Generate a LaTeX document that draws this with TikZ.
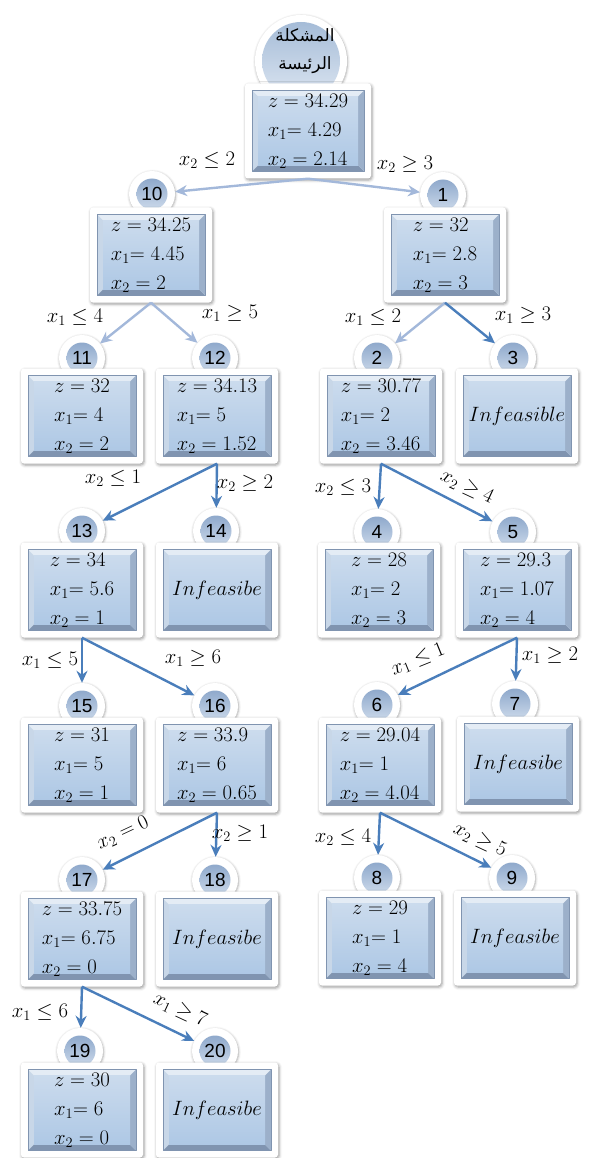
\documentclass[tikz,border=0pt]{standalone}
\usepackage{fontspec}
\setsansfont{Liberation Sans}
\newfontfamily\arabicfont[Script=Arabic]{DejaVu Sans}
\TeXXeTstate=1
\usetikzlibrary{arrows.meta,shadows.blur}

\definecolor{lightarr}{RGB}{163,184,218}
\definecolor{darkarr}{RGB}{74,126,187}
\definecolor{facetop}{RGB}{203,219,237}
\definecolor{facebot}{RGB}{174,200,229}
\definecolor{bevtop}{RGB}{228,236,245}
\definecolor{bevleft}{RGB}{200,215,232}
\definecolor{bevright}{RGB}{156,176,202}
\definecolor{bevbot}{RGB}{128,148,176}
\definecolor{tabtop}{RGB}{128,157,196}
\definecolor{tabbot}{RGB}{218,229,242}
\definecolor{roottop}{RGB}{160,184,213}
\definecolor{rootbot}{RGB}{226,234,244}

\tikzset{
  bevel/.style={rectangle,rounded corners=3pt,fill=white,inner sep=0pt,
    minimum width=122pt,minimum height=95pt,align=left,
    font=\fontsize{22.5}{29}\selectfont,
    blur shadow={shadow xshift=1pt,shadow yshift=-1.5pt,shadow blur radius=3pt,shadow opacity=40},
    path picture={
      \coordinate (pA) at ([shift={(7pt,-7pt)}]path picture bounding box.north west);
      \coordinate (pB) at ([shift={(-7pt,7pt)}]path picture bounding box.south east);
      \coordinate (qA) at ([shift={(13pt,-13pt)}]path picture bounding box.north west);
      \coordinate (qB) at ([shift={(-13pt,13pt)}]path picture bounding box.south east);
      \fill[sharp corners,bevtop] (pA) -- (pA -| pB) -- (qA -| qB) -- (qA) -- cycle;
      \fill[sharp corners,bevleft] (pA) -- (qA) -- (qA |- qB) -- (pA |- pB) -- cycle;
      \fill[sharp corners,bevbot] (pA |- pB) -- (qA |- qB) -- (qB) -- (pB) -- cycle;
      \fill[sharp corners,bevright] (pA -| pB) -- (pB) -- (qB) -- (qA -| qB) -- cycle;
      \shade[sharp corners,top color=facetop,bottom color=facebot] (qA) rectangle (qB);
      \draw[sharp corners,bevbot,line width=0.6pt] (pA) rectangle (pB);
    }},
  tab/.style={circle,fill=white,inner sep=0pt,minimum size=46pt,
    font=\fontsize{19}{19}\selectfont\sffamily,
    blur shadow={shadow xshift=0.5pt,shadow yshift=-1pt,shadow blur radius=2.5pt,shadow opacity=35},
    path picture={\shade[top color=tabtop,bottom color=tabbot] (path picture bounding box.center) circle (15.5pt);}},
  roottab/.style={tab,minimum size=92pt,
    path picture={\shade[top color=roottop,bottom color=rootbot] (path picture bounding box.center) circle (39pt);}},
  lightedge/.style={->,draw=lightarr,line width=2.4pt},
  darkedge/.style={->,draw=darkarr,line width=2.4pt},
  cond/.style={font=\fontsize{20}{20}\selectfont,inner sep=0pt}
}

\begin{document}
\begin{tikzpicture}[x=1pt,y=-1pt,>={Stealth[length=12pt,width=11pt]},line join=round]
  \useasboundingbox (0,0) rectangle (589,1158);
  % number tabs
  \node[roottab] (rtab) at (301,61) {};
  \node[font=\arabicfont\fontsize{17}{28}\selectfont,align=center] (rlbl) at (305,51) {\beginR المشكلة\endR\\\beginR الرئيسة\endR};
  \node[tab] (c10) at (152,194) {10};
  \node[tab] (c1) at (443,195) {1};
  \node[tab] (c11) at (82,358) {11};
  \node[tab] (c12) at (215,358) {12};
  \node[tab] (c2) at (377,358) {2};
  \node[tab] (c3) at (513,358) {3};
  \node[tab] (c13) at (82,531) {13};
  \node[tab] (c14) at (216,531) {14};
  \node[tab] (c4) at (377,532) {4};
  \node[tab] (c5) at (513,532) {5};
  \node[tab] (c15) at (82,706) {15};
  \node[tab] (c16) at (215,706) {16};
  \node[tab] (c6) at (377,705) {6};
  \node[tab] (c7) at (515,704) {7};
  \node[tab] (c17) at (82,880) {17};
  \node[tab] (c18) at (215,880) {18};
  \node[tab] (c8) at (377,878) {8};
  \node[tab] (c9) at (512,878) {9};
  \node[tab] (c19) at (80,1051) {19};
  \node[tab] (c20) at (215,1051) {20};
  % boxes
  \node[bevel,minimum width=126pt] (root) at (308,131) {$z = 34.29$\\$x_1{=}\;4.29$\\$x_2 = 2.14$};
  \node[bevel] (n10) at (151,255) {$z = 34.25$\\$x_1{=}\;4.45$\\$x_2 = 2$};
  \node[bevel] (n1) at (445,255) {$z = 32$\\$x_1{=}\;2.8$\\$x_2 = 3$};
  \node[bevel] (n11) at (82,416) {$z = 32$\\$x_1{=}\;4$\\$x_2 = 2$};
  \node[bevel] (n12) at (217,416) {$z = 34.13$\\$x_1{=}\;5$\\$x_2 = 1.52$};
  \node[bevel] (n2) at (381,416) {$z = 30.77$\\$x_1{=}\;2$\\$x_2 = 3.46$};
  \node[bevel] (n3) at (517,416) {$Infeasible$};
  \node[bevel] (n13) at (82,590) {$z = 34$\\$x_1{=}\;5.6$\\$x_2 = 1$};
  \node[bevel] (n14) at (217,590) {$Infeasibe$};
  \node[bevel] (n4) at (379,590) {$z = 28$\\$x_1{=}\;2$\\$x_2 = 3$};
  \node[bevel] (n5) at (517,590) {$z = 29.3$\\$x_1{=}\;1.07$\\$x_2 = 4$};
  \node[bevel] (n15) at (82,765) {$z = 31$\\$x_1{=}\;5$\\$x_2 = 1$};
  \node[bevel] (n16) at (217,765) {$z = 33.9$\\$x_1{=}\;6$\\$x_2 = 0.65$};
  \node[bevel] (n6) at (380,765) {$z = 29.04$\\$x_1{=}\;1$\\$x_2 = 4.04$};
  \node[bevel] (n7) at (518,764) {$Infeasibe$};
  \node[bevel] (n17) at (82,939) {$z = 33.75$\\$x_1{=}\;6.75$\\$x_2 = 0$};
  \node[bevel] (n18) at (217,939) {$Infeasibe$};
  \node[bevel] (n8) at (380,938) {$z = 29$\\$x_1{=}\;1$\\$x_2 = 4$};
  \node[bevel] (n9) at (515,938) {$Infeasibe$};
  \node[bevel] (n19) at (82,1110) {$z = 30$\\$x_1{=}\;6$\\$x_2 = 0$};
  \node[bevel] (n20) at (217,1110) {$Infeasibe$};
  % branches
  \draw[lightedge] (root.south) -- (c10);
  \draw[lightedge] (root.south) -- (c1);
  \draw[lightedge] (n10.south) -- (c11);
  \draw[lightedge] (n10.south) -- (c12);
  \draw[lightedge] (n1.south) -- (c2);
  \draw[darkedge] (n1.south) -- (c3);
  \draw[darkedge] (n12.south) -- (c13);
  \draw[darkedge] (n12.south) -- (c14);
  \draw[darkedge] (n2.south) -- (c4);
  \draw[darkedge] (n2.south) -- (c5);
  \draw[darkedge] (n13.south) -- (c15);
  \draw[darkedge] (n13.south) -- (c16);
  \draw[darkedge] (n5.south) -- (c6);
  \draw[darkedge] (n5.south) -- (c7);
  \draw[darkedge] (n16.south) -- (c17);
  \draw[darkedge] (n16.south) -- (c18);
  \draw[darkedge] (n6.south) -- (c8);
  \draw[darkedge] (n6.south) -- (c9);
  \draw[darkedge] (n17.south) -- (c19);
  \draw[darkedge] (n17.south) -- (c20);
  % branch conditions
  \node[cond] (l10) at (207,160) {$x_2\leq 2$};
  \node[cond] (l1) at (405,164) {$x_2\geq 3$};
  \node[cond] (l11) at (75,317) {$x_1\leq 4$};
  \node[cond] (l12) at (230,313) {$x_1\geq 5$};
  \node[cond] (l2) at (373,317) {$x_1\leq 2$};
  \node[cond] (l3) at (523,315) {$x_1\geq 3$};
  \node[cond] (l13) at (113,478) {$x_2\leq 1$};
  \node[cond] (l14) at (245,483) {$x_2\geq 2$};
  \node[cond] (l4) at (343,487) {$x_2\leq 3$};
  \node[cond,rotate=-25] (l5) at (467,487) {$x_2\geq 4$};
  \node[cond] (l15) at (50,660) {$x_1\leq 5$};
  \node[cond] (l16) at (193,658) {$x_1\geq 6$};
  \node[cond,rotate=22] (l6) at (418,660) {$x_1\leq 1$};
  \node[cond] (l7) at (550,655) {$x_1\geq 2$};
  \node[cond,rotate=25] (l17) at (123,833) {$x_2 = 0$};
  \node[cond] (l18) at (240,833) {$x_2\geq 1$};
  \node[cond] (l8) at (343,837) {$x_2\leq 4$};
  \node[cond,rotate=-25] (l9) at (480,840) {$x_2\geq 5$};
  \node[cond] (l19) at (40,1012) {$x_1\leq 6$};
  \node[cond,rotate=-25] (l20) at (180,1010) {$x_1\geq 7$};
\end{tikzpicture}
\end{document}
